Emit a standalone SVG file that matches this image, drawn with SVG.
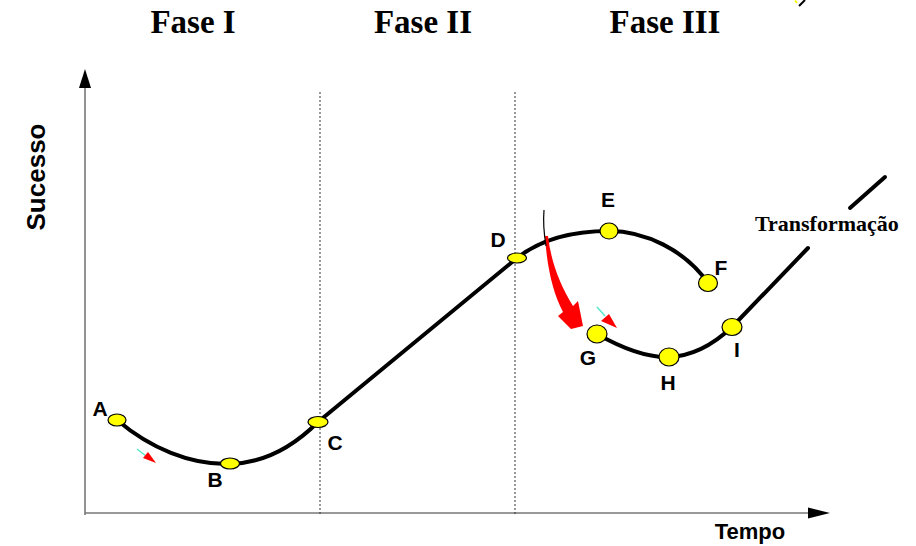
<svg xmlns="http://www.w3.org/2000/svg" width="916" height="546" viewBox="0 0 916 546">
<style>
.curve{fill:none;stroke:#000;stroke-width:4;stroke-linecap:round;stroke-linejoin:round}
.pt{fill:#ffff00;stroke:#000;stroke-width:1.2}
.lbl{font-family:"Liberation Sans",Arial,sans-serif;font-weight:bold;font-size:21px;fill:#000;text-anchor:middle}
.phase{font-family:"Liberation Serif","Times New Roman",serif;font-weight:bold;font-size:33px;fill:#000;text-anchor:middle}
.axis{stroke:#777;stroke-width:1.6;fill:none}
.div{stroke:#333;stroke-width:1;stroke-dasharray:2 2;fill:none}
.red{fill:#ff0000}
.cyan{stroke:#55e8c8;stroke-width:1.5}
</style>
<rect width="916" height="546" fill="#fff"/>

<g id="phases">
<text class="phase" x="193" y="33">Fase I</text>
<text class="phase" x="423" y="33">Fase II</text>
<text class="phase" x="665" y="33">Fase III</text>
</g>

<g id="fragment">
<line x1="795" y1="0.5" x2="797" y2="3" stroke="#ffff00" stroke-width="2"/>
<line x1="799" y1="6" x2="805" y2="0" stroke="#000" stroke-width="2"/>
</g>

<g id="axes">
<line class="axis" x1="85" y1="515" x2="85" y2="86"/>
<polygon points="85,69 79,88 91,88" fill="#000"/>
<line class="axis" x1="85" y1="513" x2="810" y2="513"/>
<polygon points="830,513 808,507.5 808,518.5" fill="#000"/>
<text class="lbl" x="750" y="539" style="font-size:22px">Tempo</text>
<text class="lbl" transform="translate(45,177) rotate(-90)" style="font-size:26px">Sucesso</text>
</g>

<g id="dividers">
<line class="div" x1="320" y1="92" x2="320" y2="515"/>
<line class="div" x1="515" y1="92" x2="515" y2="515"/>
</g>

<g id="connectors">
<path class="curve" d="M117,420 C150,448 190,465 230,464 C265,463 295,445 318,422"/>
<path class="curve" d="M318,422 L517,258"/>
<path class="curve" d="M517,258 C540,240 570,231 609,231 C645,231 685,250 708,283"/>
<path class="curve" d="M597,334 C620,347 645,358 669,357 C695,356 715,343 732,327 L808,248"/>
<path class="curve" d="M850,208 L885,177"/>
</g>

<g id="transition-arrow">
<path class="red" d="M545,236 C547,268 553,293 563,312 L558,316 L571,329 L583,326 L578,301 L573,306 C560,285 551,262 548,236 Z"/>
<path d="M544,210 C543,222 544,234 546,246" fill="none" stroke="#000" stroke-width="1.2"/>
</g>

<g id="dir-arrow-1">
<line class="cyan" x1="137" y1="449" x2="146" y2="456"/>
<polygon class="red" points="143,458 148,452 156,463"/>
</g>

<g id="dir-arrow-2">
<line class="cyan" x1="597" y1="307" x2="605" y2="316"/>
<polygon class="red" points="601,321 609,314 617,328"/>
</g>

<g id="node-A"><ellipse class="pt" cx="117" cy="420" rx="9" ry="6"/><text class="lbl" x="100" y="416">A</text></g>
<g id="node-B"><ellipse class="pt" cx="230" cy="463.5" rx="9.5" ry="5.5"/><text class="lbl" x="215" y="487">B</text></g>
<g id="node-C"><ellipse class="pt" cx="318" cy="422" rx="10" ry="5.5"/><text class="lbl" x="335" y="450">C</text></g>
<g id="node-D"><ellipse class="pt" cx="517" cy="258" rx="9.5" ry="5"/><text class="lbl" x="498" y="247">D</text></g>
<g id="node-E"><ellipse class="pt" cx="609" cy="231" rx="9" ry="8"/><text class="lbl" x="608" y="207">E</text></g>
<g id="node-F"><ellipse class="pt" cx="708" cy="283" rx="9.5" ry="8.5"/><text class="lbl" x="721" y="275">F</text></g>
<g id="node-G"><ellipse class="pt" cx="597" cy="334" rx="10" ry="9"/><text class="lbl" x="588" y="365">G</text></g>
<g id="node-H"><ellipse class="pt" cx="669" cy="357" rx="10" ry="9"/><text class="lbl" x="668" y="390">H</text></g>
<g id="node-I"><ellipse class="pt" cx="732" cy="327" rx="10" ry="8.5"/><text class="lbl" x="737" y="357">I</text></g>

<g id="label-transformacao">
<text x="755" y="231" font-family="'Liberation Serif','Times New Roman',serif" font-weight="bold" font-size="22" fill="#000">Transformação</text>
</g>
</svg>
